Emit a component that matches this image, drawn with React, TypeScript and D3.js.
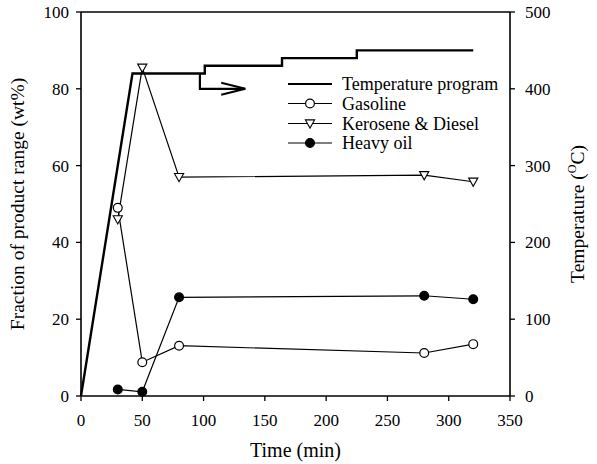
import React from "react";
import * as d3 from "d3";

const time = [30, 50, 80, 280, 320];
const gasoline = [49, 8.8, 13.1, 11.2, 13.5];
const kerosene = [46, 85.5, 57, 57.5, 55.8];
const heavyOil = [1.7, 1.1, 25.7, 26.1, 25.2];

const tempTime = [0, 42, 101, 101, 164, 164, 225, 225, 320];
const tempValue = [0, 420, 420, 430, 430, 440, 440, 450, 450];

const arrowTime = [97, 97, 134];
const arrowTemp = [420, 400, 400];

const xTicks = [0, 50, 100, 150, 200, 250, 300, 350];
const yTicks = [0, 20, 40, 60, 80, 100];
const y2Ticks = [0, 100, 200, 300, 400, 500];

const legendLabels = ["Temperature program", "Gasoline", "Kerosene & Diesel", "Heavy oil"];

const W = 597, H = 464;
const L = 81, R = 510, T = 12, B = 396;
const FONT = "'Liberation Serif', 'Times New Roman', serif";

export default function App() {
  const x = d3.scaleLinear().domain([0, 350]).range([L, R]);
  const y = d3.scaleLinear().domain([0, 100]).range([B, T]);
  const y2 = d3.scaleLinear().domain([0, 500]).range([B, T]);

  const line = d3.line<[number, number]>().x(d => x(d[0])).y(d => y(d[1]));
  const tline = d3.line<[number, number]>().x(d => x(d[0])).y(d => y2(d[1]));

  const pts = (vals: number[]) => time.map((t, i) => [t, vals[i]] as [number, number]);
  const tempPts = tempTime.map((t, i) => [t, tempValue[i]] as [number, number]);
  const arrPts = arrowTime.map((t, i) => [t, arrowTemp[i]] as [number, number]);
  const tipX = x(arrowTime[2]);
  const tipY = y2(arrowTemp[2]);

  const circle = (cx: number, cy: number, filled: boolean, k: string) => (
    <circle key={k} cx={cx} cy={cy} r={4.4} fill={filled ? "#000" : "#fff"} stroke="#000" strokeWidth={1.2} />
  );
  const tri = (cx: number, cy: number, k: string) => (
    <path key={k} d={`M${cx - 4.6},${cy - 3.6}L${cx + 4.6},${cy - 3.6}L${cx},${cy + 4.6}Z`} fill="#fff" stroke="#000" strokeWidth={1.1} />
  );

  const legY = [84, 103.5, 123.5, 143];

  return (
    <svg width={W} height={H} style={{ position: "absolute", left: 0, top: 0, background: "#fff" }} fontFamily={FONT}>
      <rect x={0} y={0} width={W} height={H} fill="#fff" />
      {/* frame */}
      <line x1={L} x2={R} y1={T} y2={T} stroke="#000" strokeWidth={1.6} />
      <line x1={L} x2={R} y1={B} y2={B} stroke="#000" strokeWidth={1.6} />
      <line x1={L} x2={L} y1={T} y2={B} stroke="#000" strokeWidth={1.6} />
      <line x1={R} x2={R} y1={T} y2={B} stroke="#000" strokeWidth={1.6} />
      {/* x ticks */}
      {xTicks.map(t => (
        <g key={"x" + t}>
          <line x1={x(t)} x2={x(t)} y1={B} y2={B + 5} stroke="#000" strokeWidth={1.3} />
          <text x={x(t)} y={426} textAnchor="middle" fontSize={17}>{t}</text>
        </g>
      ))}
      {yTicks.map(t => (
        <g key={"y" + t}>
          <line x1={L - 5} x2={L} y1={y(t)} y2={y(t)} stroke="#000" strokeWidth={1.3} />
          <text x={L - 12} y={y(t)} dy="0.35em" textAnchor="end" fontSize={17}>{t}</text>
        </g>
      ))}
      {y2Ticks.map(t => (
        <g key={"y2" + t}>
          <line x1={R} x2={R + 5} y1={y2(t)} y2={y2(t)} stroke="#000" strokeWidth={1.3} />
          <text x={R + 15} y={y2(t)} dy="0.35em" textAnchor="start" fontSize={17}>{t}</text>
        </g>
      ))}
      {/* axis titles */}
      <text x={(L + R) / 2} y={457} textAnchor="middle" fontSize={20}>Time (min)</text>
      <text transform={`translate(24,${(T + B) / 2}) rotate(-90)`} textAnchor="middle" fontSize={19.5}>Fraction of product range (wt%)</text>
      <text transform={`translate(584,${(T + B) / 2 + 10}) rotate(-90)`} textAnchor="middle" fontSize={19.5}>
        Temperature (<tspan fontSize={12} dy={-8}>O</tspan><tspan dy={8}>C)</tspan>
      </text>

      {/* temperature program */}
      <path d={tline(tempPts) || ""} fill="none" stroke="#000" strokeWidth={2.4} />
      <path d={tline(arrPts) || ""} fill="none" stroke="#000" strokeWidth={2.2} />
      <path d={`M${tipX - 24},${tipY - 6}L${tipX},${tipY}L${tipX - 24},${tipY + 6}`} fill="none" stroke="#000" strokeWidth={2} />

      {/* series lines */}
      <path d={line(pts(gasoline)) || ""} fill="none" stroke="#000" strokeWidth={1.2} />
      <path d={line(pts(kerosene)) || ""} fill="none" stroke="#000" strokeWidth={1.2} />
      <path d={line(pts(heavyOil)) || ""} fill="none" stroke="#000" strokeWidth={1.2} />
      {time.map((t, i) => circle(x(t), y(heavyOil[i]), true, "h" + i))}
      {time.map((t, i) => circle(x(t), y(gasoline[i]), false, "g" + i))}
      {time.map((t, i) => tri(x(t), y(kerosene[i]), "k" + i))}

      {/* legend */}
      <g>
        <line x1={288} x2={332} y1={legY[0]} y2={legY[0]} stroke="#000" strokeWidth={2.2} />
        <line x1={288} x2={332} y1={legY[1]} y2={legY[1]} stroke="#000" strokeWidth={1.2} />
        {circle(310, legY[1], false, "lg")}
        <line x1={288} x2={332} y1={legY[2]} y2={legY[2]} stroke="#000" strokeWidth={1.2} />
        {tri(310, legY[2], "lk")}
        <line x1={288} x2={332} y1={legY[3]} y2={legY[3]} stroke="#000" strokeWidth={1.2} />
        {circle(310, legY[3], true, "lh")}
        {legendLabels.map((s, i) => (
          <text key={s} x={342} y={legY[i]} dy="0.35em" fontSize={18}>{s}</text>
        ))}
      </g>
    </svg>
  );
}
